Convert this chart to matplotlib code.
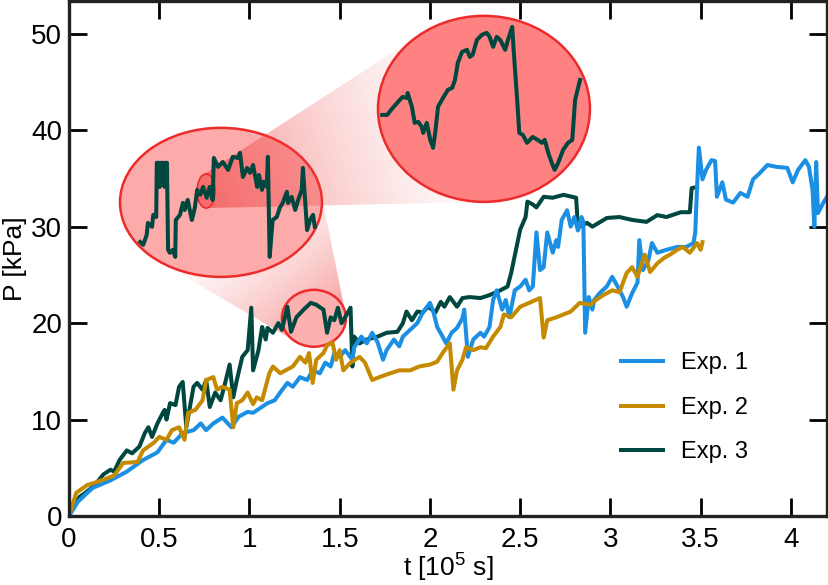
import numpy as np
import matplotlib.pyplot as plt
from matplotlib.patches import Ellipse, Polygon

plt.rcParams['font.family'] = ['Liberation Sans', 'DejaVu Sans']
plt.rcParams['mathtext.fontset'] = 'custom'
plt.rcParams['mathtext.rm'] = 'Liberation Sans'
plt.rcParams['mathtext.it'] = 'Liberation Sans'

# %% data: t [1e5 s], P [kPa]

exp1 = np.array([
    [0, 0], [0.05, 1.5], [0.13, 2.9], [0.23, 3.7], [0.32, 4.6], [0.41, 5.8], [0.49, 6.6],
    [0.54, 7.9], [0.58, 7.6], [0.63, 8.6], [0.69, 8.9], [0.73, 9.6], [0.76, 8.9], [0.80, 9.6],
    [0.85, 10.2], [0.87, 9.8], [0.90, 9.2], [0.94, 10.3], [0.99, 10.8], [1.02, 10.7], [1.06, 11.2],
    [1.10, 11.7], [1.14, 12.0], [1.17, 12.8], [1.21, 13.8], [1.24, 13.4], [1.28, 14.4], [1.32, 14.1],
    [1.35, 15.1], [1.39, 14.8], [1.42, 15.9], [1.45, 15.5], [1.47, 16.9], [1.50, 16.5], [1.53, 17.2],
    [1.57, 16.2], [1.58, 17.5], [1.62, 18.6], [1.65, 17.9], [1.68, 19.0], [1.71, 18.0], [1.74, 16.2],
    [1.76, 17.2], [1.80, 18.3], [1.83, 17.6], [1.85, 18.6], [1.89, 19.3], [1.93, 20.0], [1.96, 21.1],
    [2.00, 22.1], [2.02, 21.1], [2.04, 19.6], [2.07, 18.6], [2.09, 17.9], [2.12, 19.0], [2.15, 19.5],
    [2.18, 20.5], [2.19, 21.4], [2.21, 16.5], [2.24, 18.3], [2.28, 19.0], [2.30, 18.6], [2.33, 19.6],
    [2.35, 22.4], [2.37, 23.4], [2.40, 21.4], [2.42, 22.4], [2.44, 20.6], [2.47, 23.4], [2.50, 23.8],
    [2.53, 24.5], [2.55, 23.4], [2.57, 23.8], [2.59, 29.4], [2.61, 25.5], [2.63, 25.8], [2.65, 29.4],
    [2.68, 27.3], [2.70, 28.6], [2.71, 27.9], [2.73, 30.7], [2.76, 31.7], [2.78, 30.0], [2.80, 31.0],
    [2.82, 29.6], [2.84, 31.0], [2.85, 30.5], [2.86, 19.0], [2.88, 22.7], [2.90, 21.4], [2.91, 22.4],
    [2.94, 23.1], [2.98, 23.8], [3.01, 24.8], [3.04, 23.8], [3.07, 22.7], [3.09, 21.7], [3.12, 23.1],
    [3.15, 24.2], [3.16, 28.6], [3.18, 25.5], [3.21, 26.5], [3.23, 28.3], [3.26, 27.3], [3.31, 27.6],
    [3.37, 27.9], [3.42, 27.9], [3.46, 28.3], [3.47, 29.4], [3.48, 34.1], [3.49, 38.2], [3.51, 34.9],
    [3.53, 35.9], [3.56, 36.9], [3.58, 36.8], [3.59, 33.1], [3.62, 34.6], [3.64, 32.8], [3.68, 32.5],
    [3.72, 33.5], [3.76, 33.1], [3.79, 34.9], [3.83, 35.6], [3.87, 36.4], [3.92, 36.2], [3.98, 36.1],
    [4.01, 34.6], [4.04, 35.9], [4.08, 36.9], [4.10, 36.2], [4.12, 33.8], [4.13, 30.0], [4.14, 36.7],
    [4.15, 31.4], [4.18, 32.5], [4.20, 33.1]])

exp2 = np.array([
    [0, 0], [0.04, 2.4], [0.10, 3.2], [0.15, 3.5], [0.21, 3.9], [0.25, 4.2], [0.30, 5.5], [0.38, 5.6],
    [0.41, 6.8], [0.47, 7.6], [0.50, 8.2], [0.54, 7.9], [0.57, 8.9], [0.61, 9.2], [0.64, 7.9],
    [0.66, 10.7], [0.70, 11.0], [0.74, 12.0], [0.76, 14.1], [0.80, 14.4], [0.82, 13.1], [0.85, 13.4],
    [0.89, 13.1], [0.91, 9.2], [0.93, 11.7], [0.96, 12.0], [0.99, 12.8], [1.02, 11.6], [1.04, 12.3],
    [1.07, 12.0], [1.11, 14.8], [1.13, 15.5], [1.17, 14.8], [1.20, 15.1], [1.24, 15.5], [1.28, 16.5],
    [1.31, 15.9], [1.33, 16.9], [1.35, 13.8], [1.37, 16.2], [1.41, 16.9], [1.43, 17.7], [1.46, 18.0],
    [1.48, 16.2], [1.50, 17.2], [1.52, 15.1], [1.54, 15.5], [1.56, 15.9], [1.61, 16.5], [1.64, 15.9],
    [1.68, 14.1], [1.72, 14.4], [1.78, 14.8], [1.83, 15.1], [1.89, 15.1], [1.94, 15.5], [2.00, 15.7],
    [2.04, 16.0], [2.07, 16.9], [2.11, 17.9], [2.13, 13.1], [2.15, 15.1], [2.18, 16.2], [2.20, 17.5],
    [2.24, 17.2], [2.28, 17.5], [2.31, 17.4], [2.35, 18.6], [2.39, 19.6], [2.41, 20.9], [2.45, 20.6],
    [2.50, 21.7], [2.55, 22.1], [2.61, 22.6], [2.63, 18.5], [2.65, 20.3], [2.70, 20.6], [2.78, 21.2],
    [2.83, 22.1], [2.89, 21.9], [2.92, 22.4], [2.96, 22.9], [3.01, 23.4], [3.05, 23.2], [3.09, 25.2],
    [3.12, 25.8], [3.15, 24.8], [3.19, 27.1], [3.22, 25.3], [3.26, 26.2], [3.30, 26.8], [3.33, 27.1],
    [3.37, 27.6], [3.40, 27.9], [3.44, 27.3], [3.48, 28.3], [3.50, 27.6], [3.51, 28.4]])

exp3 = np.array([
    [0, 0], [0.03, 1.2], [0.06, 2.0], [0.09, 2.4], [0.13, 3.0], [0.16, 3.6], [0.19, 4.3], [0.23, 4.8],
    [0.25, 4.6], [0.28, 5.8], [0.32, 6.8], [0.35, 6.5], [0.39, 7.2], [0.42, 8.6], [0.44, 9.2],
    [0.46, 8.2], [0.49, 9.6], [0.52, 10.7], [0.53, 11.0], [0.54, 10.0], [0.56, 11.7], [0.59, 11.5],
    [0.61, 13.4], [0.63, 13.9], [0.65, 9.2], [0.67, 11.3], [0.69, 13.4], [0.71, 13.8], [0.74, 13.1],
    [0.76, 14.1], [0.78, 11.3], [0.81, 12.8], [0.84, 12.0], [0.86, 13.4], [0.89, 15.7], [0.91, 12.3],
    [0.93, 14.1], [0.96, 16.5], [0.99, 17.2], [1.01, 21.6], [1.02, 15.1], [1.05, 17.2], [1.07, 19.6],
    [1.09, 18.3], [1.10, 19.5], [1.13, 19.0], [1.16, 20.0], [1.18, 19.3], [1.21, 21.7], [1.23, 19.1],
    [1.26, 20.6], [1.30, 21.4], [1.34, 22.1], [1.37, 21.9], [1.41, 21.4], [1.43, 19.0], [1.45, 20.6],
    [1.47, 20.3], [1.49, 21.6], [1.51, 20.0], [1.53, 20.6], [1.56, 21.6], [1.57, 15.5], [1.58, 18.6],
    [1.61, 17.9], [1.65, 18.3], [1.71, 18.6], [1.76, 19.0], [1.82, 19.1], [1.85, 20.0], [1.87, 21.2],
    [1.90, 20.3], [1.93, 21.2], [1.96, 21.1], [1.99, 21.7], [2.03, 21.1], [2.06, 22.2], [2.08, 21.7],
    [2.11, 22.7], [2.15, 21.7], [2.18, 22.6], [2.22, 22.7], [2.28, 22.6], [2.33, 22.9], [2.39, 23.4],
    [2.43, 23.8], [2.45, 25.2], [2.48, 27.9], [2.50, 29.7], [2.53, 31.0], [2.54, 32.6], [2.57, 32.3],
    [2.59, 32.0], [2.63, 33.1], [2.68, 33.0], [2.74, 33.3], [2.81, 33.0], [2.82, 29.9], [2.87, 30.4],
    [2.90, 30.0], [2.98, 30.9], [3.05, 31.0], [3.12, 30.7], [3.20, 30.5], [3.26, 31.2], [3.31, 31.0],
    [3.39, 31.5], [3.44, 31.5], [3.45, 34.0], [3.48, 34.1]])

# Exp. 3 seen through the first lens
zoom1 = np.array([
    [1.224, 18.99], [1.229, 18.88], [1.235, 19.25], [1.237, 19.69], [1.244, 19.55], [1.246, 19.99],
    [1.251, 19.91], [1.252, 21.91], [1.255, 21.91], [1.257, 21.02], [1.259, 21.91], [1.262, 21.91],
    [1.265, 21.02], [1.267, 21.91], [1.269, 21.91], [1.271, 18.70], [1.274, 18.59], [1.279, 18.70],
    [1.283, 18.44], [1.284, 19.80], [1.291, 19.99], [1.296, 20.43], [1.299, 20.17], [1.304, 20.54],
    [1.311, 19.80], [1.316, 20.25], [1.320, 20.91], [1.325, 20.73], [1.330, 21.02], [1.336, 20.62],
    [1.341, 21.02], [1.346, 20.54], [1.348, 22.09], [1.355, 21.76], [1.363, 21.94], [1.372, 21.65],
    [1.380, 22.13], [1.389, 22.09], [1.392, 22.28], [1.397, 21.39], [1.404, 21.72], [1.409, 21.54],
    [1.414, 21.83], [1.421, 21.02], [1.424, 21.46], [1.429, 20.91], [1.432, 21.21], [1.437, 21.02],
    [1.439, 22.13], [1.442, 18.44], [1.447, 19.80], [1.454, 19.91], [1.459, 20.25], [1.464, 20.43],
    [1.471, 20.84], [1.473, 20.43], [1.479, 20.65], [1.485, 20.17], [1.490, 20.54], [1.496, 20.91],
    [1.498, 21.72], [1.505, 19.43], [1.510, 19.80], [1.515, 19.99], [1.518, 19.55]])

# Exp. 3 seen through the second lens
zoom2 = np.array([
    [1.3206, 20.829], [1.3213, 20.829], [1.3221, 20.877], [1.3231, 20.931], [1.3235, 20.951],
    [1.3241, 20.944], [1.3242, 20.978], [1.3248, 20.884], [1.3252, 20.775], [1.3257, 20.782],
    [1.3262, 20.748], [1.3264, 20.707], [1.3269, 20.775], [1.3274, 20.660], [1.3278, 20.606],
    [1.3281, 20.707], [1.3285, 20.884], [1.3292, 20.944], [1.3299, 20.999], [1.3305, 21.012],
    [1.3309, 21.066], [1.3313, 21.182], [1.3319, 21.256], [1.3326, 21.270], [1.3330, 21.222],
    [1.3334, 21.236], [1.3340, 21.337], [1.3347, 21.371], [1.3354, 21.385], [1.3358, 21.358],
    [1.3363, 21.290], [1.3368, 21.358], [1.3373, 21.337], [1.3380, 21.270], [1.3384, 21.337],
    [1.3390, 21.425], [1.3392, 21.270], [1.3397, 20.931], [1.3400, 20.707], [1.3405, 20.694],
    [1.3411, 20.640], [1.3415, 20.660], [1.3419, 20.680], [1.3426, 20.660], [1.3432, 20.640],
    [1.3436, 20.660], [1.3441, 20.572], [1.3446, 20.504], [1.3450, 20.457], [1.3455, 20.504],
    [1.3462, 20.592], [1.3469, 20.640], [1.3475, 20.660], [1.3479, 20.931], [1.3486, 21.066]])

labels = ["Exp. 1", "Exp. 2", "Exp. 3"]
colors = ["#1a8fe3", "#c48a00", "#00483f"]
xticks = [0, 0.5, 1, 1.5, 2, 2.5, 3, 3.5, 4]
xticklabels = ["0", "0.5", "1", "1.5", "2", "2.5", "3", "3.5", "4"]
yticks = [0, 10, 20, 30, 40, 50]

# lens geometry (main data coords): spot = (cx, cy, w, h), lens = (x0, y0, w, h)
spot = (1.357, 20.5, 0.355, 5.9)
lens1 = (0.2825, 24.79, 1.119, 15.46)
lens1_lim = ((1.19, 1.53), (17.7, 23.2))
spot2 = (1.335, 20.87, 0.0303, 1.26)     # in lens1 coords
lens2 = (1.712, 32.57, 1.1745, 19.29)
lens2_lim = ((1.320, 1.350), (20.24, 21.50))

XMAX, YMAX = 4.2, 53.4
red = "#ee2b2b"
LW = 2.9

fig = plt.figure(figsize=(8.29, 5.85), dpi=100)
ax = fig.add_axes([69/829, 69/585, 758/829, 515/585])


def ell_pts(cx, cy, w, h, n=240):
    th = np.linspace(0, 2*np.pi, n, endpoint=False)
    return np.column_stack([cx + w/2*np.cos(th), cy + h/2*np.sin(th)])


def hull(pts):
    pts = sorted(map(tuple, pts))
    def half(seq):
        out = []
        for p in seq:
            while len(out) >= 2 and ((out[-1][0]-out[-2][0])*(p[1]-out[-2][1])
                                     - (out[-1][1]-out[-2][1])*(p[0]-out[-2][0])) <= 0:
                out.pop()
            out.append(p)
        return out
    lo, up = half(pts), half(pts[::-1])
    return np.array(lo[:-1] + up[:-1])


def box_to_ell(b):
    return (b[0] + b[2]/2, b[1] + b[3]/2, b[2], b[3])


def lens_to_main(lens, lim, e):
    (a0, a1), (b0, b1) = lim
    kx, ky = lens[2]/(a1-a0), lens[3]/(b1-b0)
    return (lens[0] + (e[0]-a0)*kx, lens[1] + (e[1]-b0)*ky, e[2]*kx, e[3]*ky)


def cone(src, dst, rgb, a0, z):
    pts = np.vstack([ell_pts(*src), ell_pts(*dst)])
    poly = Polygon(hull(pts), closed=True, facecolor='none', edgecolor='none', transform=ax.transData)
    ax.add_patch(poly)
    x0, y0 = pts.min(0)
    x1, y1 = pts.max(0)
    gx, gy = np.meshgrid(np.linspace(x0, x1, 400), np.linspace(y0, y1, 400))
    kx, ky = 758/XMAX, 515/YMAX
    dx, dy = (dst[0]-src[0])*kx, (dst[1]-src[1])*ky
    s = ((gx-src[0])*kx*dx + (gy-src[1])*ky*dy) / (dx**2 + dy**2)
    img = np.zeros(gx.shape + (4,))
    img[..., :3] = np.array(rgb)/255
    img[..., 3] = a0*np.clip(1-s, 0, 1)**1.5
    im = ax.imshow(img, extent=[x0, x1, y0, y1], origin='lower', aspect='auto',
                   interpolation='bilinear', zorder=z)
    im.set_clip_path(poly)


e1 = box_to_ell(lens1)
e2 = box_to_ell(lens2)
s2 = lens_to_main(lens1, lens1_lim, spot2)

cone(spot, e1, (240, 70, 70), 0.45, 0.5)
ax.add_patch(Ellipse(e1[:2], e1[2], e1[3], facecolor="#fcaaaa", edgecolor=red, lw=1.8, zorder=0.7))
cone(s2, e2, (240, 60, 60), 0.55, 0.8)
ax.add_patch(Ellipse(e2[:2], e2[2], e2[3], facecolor="#fe8282", edgecolor=red, lw=1.8, zorder=0.9))
ax.add_patch(Ellipse(spot[:2], spot[2], spot[3], facecolor="#fcb0b0", edgecolor=red, lw=1.8, zorder=1))

lines = {}
for data, lab, col, z in [(exp3, labels[2], colors[2], 2), (exp1, labels[0], colors[0], 2.1),
                          (exp2, labels[1], colors[1], 2.2)]:
    lines[lab], = ax.plot(data[:, 0], data[:, 1], color=col, lw=LW, label=lab, zorder=z)

for lens, lim, data in [(lens1, lens1_lim, zoom1), (lens2, lens2_lim, zoom2)]:
    ins = ax.inset_axes(lens, transform=ax.transData)
    ins.plot(data[:, 0], data[:, 1], color=colors[2], lw=LW, solid_joinstyle='round')
    ins.set_xlim(*lim[0])
    ins.set_ylim(*lim[1])
    ins.axis('off')
    if lens is lens1:
        ins.add_patch(Ellipse(spot2[:2], spot2[2], spot2[3], facecolor='none', edgecolor=red, lw=1.2))

ax.set_xlim(0, XMAX)
ax.set_ylim(0, YMAX)
ax.set_xticks(xticks, xticklabels)
ax.set_yticks(yticks)
ax.tick_params(direction='in', length=13, width=2, labelsize=20, top=True, right=True)
ax.tick_params(axis='y', pad=5)
ax.tick_params(axis='x', pad=8)
for sp in ax.spines.values():
    sp.set_linewidth(2.4)
    sp.set_color("#222222")
ax.set_xlabel("t [10$^5$ s]", fontsize=19, labelpad=-1)
ax.set_ylabel("P [kPa]", fontsize=19, labelpad=3)

ax.legend([lines[l] for l in labels], labels, loc='center left', bbox_to_anchor=(0.728, 0.21),
          frameon=False, fontsize=17, handlelength=1.8, handletextpad=0.75, labelspacing=0.95,
          borderpad=0, borderaxespad=0)

plt.savefig("out.png", dpi=100)
